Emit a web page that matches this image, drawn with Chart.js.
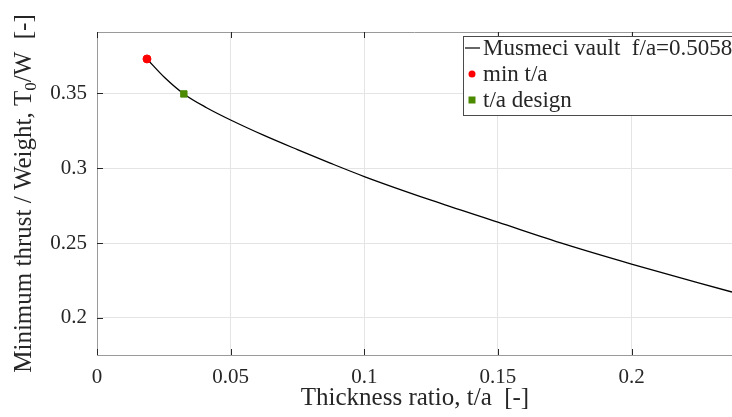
<!DOCTYPE html>
<html><head><meta charset="utf-8">
<script src="https://cdn.jsdelivr.net/npm/chart.js@4.4.1/dist/chart.umd.min.js"></script>
<style>html,body{margin:0;padding:0;background:#fff}#wrap{width:732px;height:417px;position:relative}</style>
</head><body><div id="wrap"><canvas id="c"></canvas></div>
<script>
const thicknessRatio = [0.0187, 0.0254, 0.0325, 0.041, 0.05, 0.0625, 0.075, 0.0875, 0.1, 0.125, 0.15, 0.175, 0.2, 0.2376];
const thrustRatio    = [0.3731, 0.3605, 0.3497, 0.3405, 0.3323, 0.3220, 0.3125, 0.3033, 0.2945, 0.2787, 0.2640, 0.2493, 0.2360, 0.2173];
const minTaX = [0.0187];
const minTaY = [0.3731];
const designTaX = [0.0325];
const designTaY = [0.3497];
const xTickValues = [0, 0.05, 0.1, 0.15, 0.2];
const yTickValues = [0.2, 0.25, 0.3, 0.35];
const seriesLabels = ['Musmeci vault  f/a=0.5058', 'min t/a', 't/a design'];
const xTitle = 'Thickness ratio, t/a  [-]';
const yTitleParts = ['Minimum thrust / Weight, T', '0', '/W  [-]'];

const FONT = '"Liberation Serif", "Times New Roman", serif';
const TXT = '#262626';

const toPts = (xs, ys) => xs.map((x, i) => ({x, y: ys[i]}));

const decor = {
  id: 'decor',
  afterDraw(chart) {
    const ctx = chart.ctx, a = chart.chartArea;
    const xs = chart.scales.x, ys = chart.scales.y;
    ctx.save();
    ctx.strokeStyle = '#9a9a9a'; ctx.lineWidth = 1;
    ctx.beginPath(); ctx.moveTo(a.left, a.top + 0.5); ctx.lineTo(a.right, a.top + 0.5); ctx.stroke();
    ctx.strokeStyle = TXT;
    ctx.beginPath();
    xTickValues.forEach(v => {
      const p = Math.round(xs.getPixelForValue(v)) + 0.5;
      ctx.moveTo(p, a.bottom); ctx.lineTo(p, a.bottom - 6);
      ctx.moveTo(p, a.top); ctx.lineTo(p, a.top + 6);
    });
    yTickValues.forEach(v => {
      const p = Math.round(ys.getPixelForValue(v)) + 0.5;
      ctx.moveTo(a.left, p); ctx.lineTo(a.left + 6, p);
    });
    ctx.stroke();
    ctx.fillStyle = TXT;
    ctx.font = '25px ' + FONT;
    ctx.textAlign = 'center'; ctx.textBaseline = 'alphabetic';
    ctx.fillText(xTitle, 415, 405);
    ctx.translate(31, (a.top + a.bottom) / 2);
    ctx.rotate(-Math.PI / 2);
    ctx.font = '25px ' + FONT;
    const w0 = ctx.measureText(yTitleParts[0]).width;
    ctx.font = '17px ' + FONT;
    const w1 = ctx.measureText(yTitleParts[1]).width;
    ctx.font = '25px ' + FONT;
    const w2 = ctx.measureText(yTitleParts[2]).width;
    let x0 = -(w0 + w1 + w2) / 2;
    ctx.textAlign = 'left';
    ctx.fillText(yTitleParts[0], x0, 0);
    ctx.font = '17px ' + FONT;
    ctx.fillText(yTitleParts[1], x0 + w0, 5);
    ctx.font = '25px ' + FONT;
    ctx.fillText(yTitleParts[2], x0 + w0 + w1, 0);
    ctx.restore();

    ctx.save();
    const lx = 463, ly = 36, lw = 280, lh = 79;
    ctx.fillStyle = '#fff';
    ctx.fillRect(lx, ly, lw, lh);
    ctx.strokeStyle = '#4a4a4a'; ctx.lineWidth = 1;
    ctx.strokeRect(lx + 0.5, ly + 0.5, lw, lh);
    const ds = chart.data.datasets;
    ctx.font = '23px ' + FONT; ctx.fillStyle = TXT; ctx.textAlign = 'left'; ctx.textBaseline = 'middle';
    const rows = [48, 74, 100];
    ctx.strokeStyle = ds[0].borderColor; ctx.lineWidth = 1.2;
    ctx.beginPath(); ctx.moveTo(465, rows[0]); ctx.lineTo(480, rows[0]); ctx.stroke();
    ctx.fillText(ds[0].label, 483, rows[0] + 1);
    ctx.fillStyle = ds[1].backgroundColor;
    ctx.beginPath(); ctx.arc(472, rows[1], 3.5, 0, Math.PI * 2); ctx.fill();
    ctx.fillStyle = TXT; ctx.fillText(ds[1].label, 483, rows[1] + 1);
    ctx.fillStyle = ds[2].backgroundColor;
    ctx.fillRect(468.5, rows[2] - 3.5, 7, 7);
    ctx.fillStyle = TXT; ctx.fillText(ds[2].label, 483, rows[2] + 1);
    ctx.restore();
  }
};

new Chart(document.getElementById('c'), {
  type: 'scatter',
  data: {
    datasets: [
      { type: 'line', label: seriesLabels[0], data: toPts(thicknessRatio, thrustRatio),
        borderColor: '#000', borderWidth: 1.3, pointRadius: 0, cubicInterpolationMode: 'monotone', fill: false, order: 3 },
      { label: seriesLabels[1], data: toPts(minTaX, minTaY), backgroundColor: '#ff0000', borderColor: '#ff0000',
        pointStyle: 'circle', pointRadius: 4, order: 1 },
      { label: seriesLabels[2], data: toPts(designTaX, designTaY), backgroundColor: '#4c8a00', borderColor: '#4c8a00',
        pointStyle: 'rect', pointRadius: 4.5, order: 2 }
    ]
  },
  options: {
    responsive: true, maintainAspectRatio: false, animation: false,
    layout: { autoPadding: false, padding: { top: 32, right: 0, left: 0, bottom: 0 } },
    plugins: { legend: { display: false }, tooltip: { enabled: false } },
    scales: {
      x: {
        type: 'linear', min: 0, max: 0.2376,
        afterBuildTicks: s => { s.ticks = xTickValues.map(v => ({value: v})); },
        afterFit: s => { s.height = 62; s.paddingRight = 0; s.paddingLeft = 0; },
        grid: { color: '#e4e4e4', drawTicks: false },
        border: { color: '#9a9a9a' },
        ticks: { padding: 10, color: TXT, font: { family: FONT, size: 21 }, callback: v => String(v) }
      },
      y: {
        type: 'linear', min: 0.1752, max: 0.3911,
        afterBuildTicks: s => { s.ticks = yTickValues.map(v => ({value: v})); },
        afterFit: s => { s.width = 97; s.paddingTop = 0; s.paddingBottom = 0; },
        grid: { color: '#e4e4e4', drawTicks: false },
        border: { color: '#9a9a9a' },
        ticks: { padding: 10, color: TXT, font: { family: FONT, size: 21 }, callback: v => String(v) }
      }
    }
  },
  plugins: [decor]
});
</script></body></html>
